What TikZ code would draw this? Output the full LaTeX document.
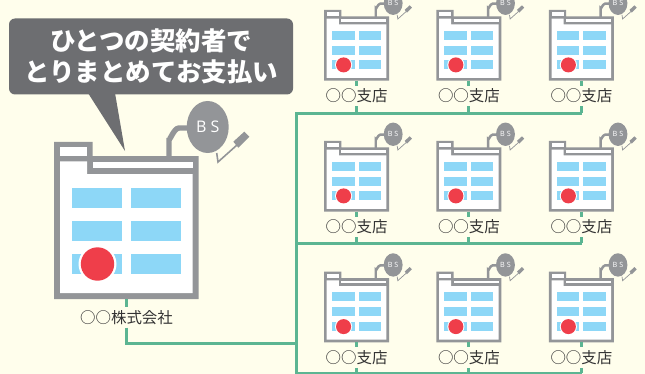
\documentclass[tikz,border=0pt]{standalone}
\usepackage{fontspec}
\usepackage{xcolor}
\usetikzlibrary{positioning}
\newfontfamily\jpfont{Noto Sans CJK JP}
\newfontfamily\dishfont{Open Sans}
\definecolor{paper}{HTML}{FFFEEC}
\definecolor{wallgray}{HTML}{939598}
\definecolor{bubblegray}{HTML}{6D6E71}
\definecolor{glassblue}{HTML}{8DD7F7}
\definecolor{doorred}{HTML}{EF3E4A}
\definecolor{wiregreen}{HTML}{5CB592}
\tikzset{
  wire/.style={draw=wiregreen,line width=2.25pt},
  namelabel/.style={font=\jpfont\fontsize{11.6}{12}\selectfont,text=black!80,inner sep=0pt,minimum height=15pt},
  pics/office/.style={code={
    \begin{scope}[scale=#1]
      % antenna cable behind the wall
      \draw[wallgray,line width=#1*4.1pt] (115,16) -- (115,-4) to[out=-90,in=180] (125,-14) -- (140,-14);
      % wall, roof and tab
      \fill[wallgray] (0,0) -- (38.7,0) -- (38.7,14) -- (144.5,14) -- (144.5,157) -- (0,157) -- cycle;
      \fill[white] (6,5) rectangle (33,14);
      \fill[white] (6,19.3) -- (33,19.3) -- (33,32) -- (138.7,32) -- (138.7,151) -- (6,151) -- cycle;
      \fill[white] (38.7,20) rectangle (138.7,26);
      % windows
      \foreach \wy in {46,79,112} {
        \fill[glassblue] (18,\wy) rectangle (68,\wy+20);
        \fill[glassblue] (77,\wy) rectangle (127,\wy+20);
      }
      \fill[white] (43.5,122) circle [radius=19];
      \fill[doorred] (43.5,122) circle [radius=16.7];
      % dish
      \draw[wallgray,line width=#1*1.2pt] (162.7,11) -- (164,20) -- (183,3);
      \fill[wallgray] (179.3,-0.3) -- (190.3,-10.3) -- (195.3,-5.3) -- (184.3,5.7) -- cycle;
      \fill[wallgray] (153.7,-15) ellipse [x radius=21,y radius=26];
      \node[transform shape,text=white,inner sep=0pt,font=\dishfont\fontsize{12}{13}\selectfont] (-dish) at (153.7,-15) {B S};
      \coordinate (-foot) at (72.5,157);
    \end{scope}
  }}
}
\begin{document}
\begin{tikzpicture}[x=0.75pt,y=-0.75pt]
  \useasboundingbox (0,0) rectangle (645,374);
  \fill[paper] (0,0) rectangle (645,374);
  \clip (0,0) rectangle (645,374);

  % head office
  \pic (hq) at (54,142) {office=1};
  \node[namelabel,below=6pt of hq-foot] (hqname) {○○株式会社};

  % speech bubble
  \coordinate (tipa) at (88,93);
  \coordinate (tipb) at (115,93);
  \coordinate (tipc) at (125,151);
  \fill[bubblegray] (tipa) -- (tipc) -- (tipb) -- cycle;
  \node[fill=bubblegray,rounded corners=4.5pt,minimum width=213pt,minimum height=57pt,inner sep=0pt,
        text=white,align=center,font=\jpfont\bfseries\fontsize{19.1}{23.2}\selectfont] (bubble) at (151,56.5)
        {ひとつの契約者で\\とりまとめてお支払い};

  % bus lines
  \coordinate (bus1) at (296,113.5);
  \coordinate (bus2) at (296,243);
  \coordinate (bus3) at (296,373);
  \coordinate (end1) at (582,113.5);
  \coordinate (end2) at (582,243);
  \coordinate (end3) at (582,373);
  \coordinate (hqbus) at (296,343.5);
  \draw[wire] (end1) -- (bus1) -- (bus3) -- (end3);
  \draw[wire] (bus2) -- (end2);

  % branches
  \foreach \ry [count=\r] in {10,141,271.7} {
    \foreach \cx [count=\c] in {324,436.3,548.8} {
      \pic (s\r\c) at (\cx,\ry) {office=.45};
      \node[namelabel,below=3.75pt of s\r\c-foot] (n\r\c) {○○支店};
      \draw[wire] (s\r\c-foot) -- (n\r\c.north);
      \draw[wire] (n\r\c.south) -- (n\r\c.south |- bus\r);
    }
  }

  \draw[wire] (hq-foot) -- (hqname.north);
  \draw[wire] (hqname.south) |- (hqbus);
\end{tikzpicture}
\end{document}
